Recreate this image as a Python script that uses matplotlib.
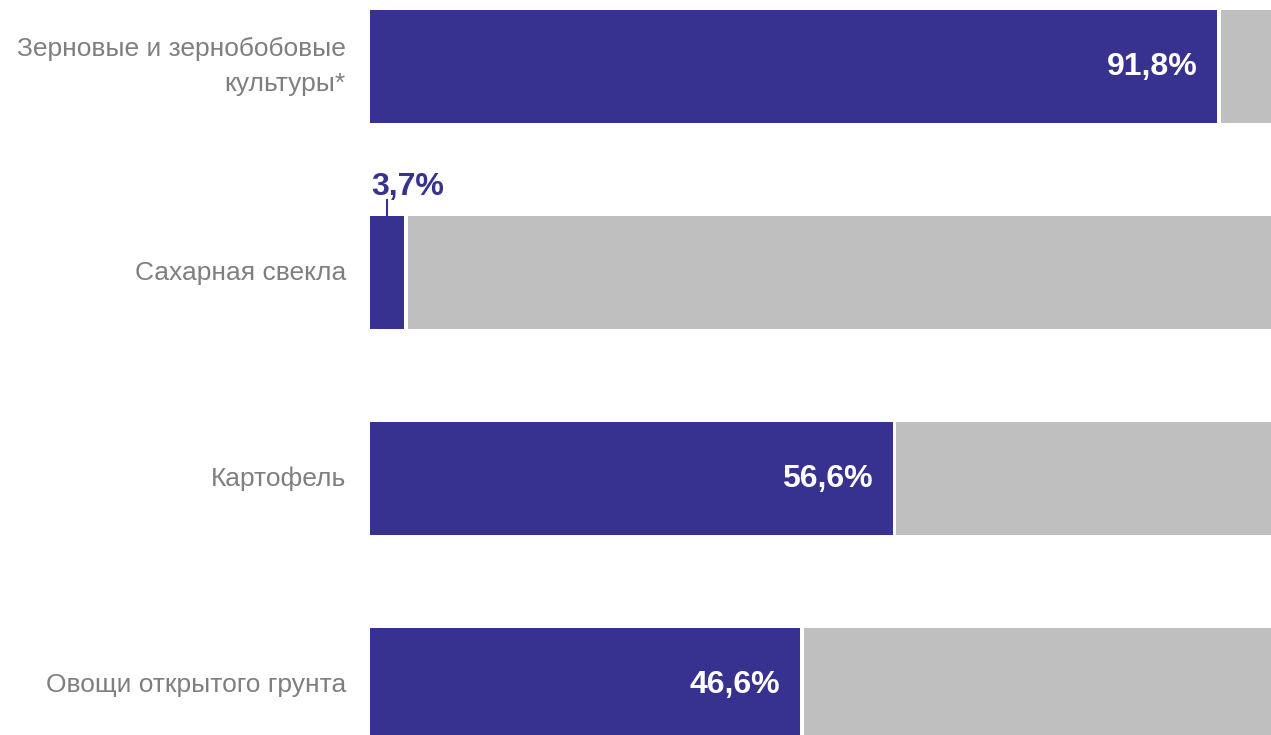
import matplotlib.pyplot as plt

categories = ["Зерновые и зернобобовые\nкультуры*", "Сахарная свекла", "Картофель", "Овощи открытого грунта"]
share = [91.8, 3.7, 56.6, 46.6]
labels = ["91,8%", "3,7%", "56,6%", "46,6%"]
rest = [100 - v for v in share]

blue = "#37318F"
grey = "#BFBFBF"
gap = 0.42

plt.rcParams['font.family'] = ['Liberation Sans', 'DejaVu Sans']

fig = plt.figure(figsize=(12.71, 7.35), dpi=100)
ax = fig.add_axes([370 / 1271, 0, 901 / 1271, 1])

y = list(range(len(categories)))
ax.barh(y, share, height=0.549, color=blue)
ax.barh(y, rest, left=[v + gap for v in share], height=0.549, color=grey)

ax.set_xlim(0, 97.6)
ax.set_ylim(3.245, -0.323)
ax.axis("off")

for i in range(len(categories)):
    ax.text(-2.6, y[i], categories[i], ha="right", va="center", color="#7F7F7F",
            fontsize=19, linespacing=1.55)
    if share[i] > 10:
        ax.text(share[i] - 2.2, y[i], labels[i], ha="right", va="center",
                color="white", fontsize=23, fontweight="bold")
    else:
        # small value: label sits above the bar with a leader line
        ax.plot([share[i] / 2, share[i] / 2], [y[i] - 0.274, y[i] - 0.352],
                color=blue, linewidth=1.5, clip_on=False)
        ax.text(0.15, y[i] - 0.376, labels[i], ha="left", va="baseline",
                color=blue, fontsize=23, fontweight="bold")

fig.savefig("out.png", dpi=100)
